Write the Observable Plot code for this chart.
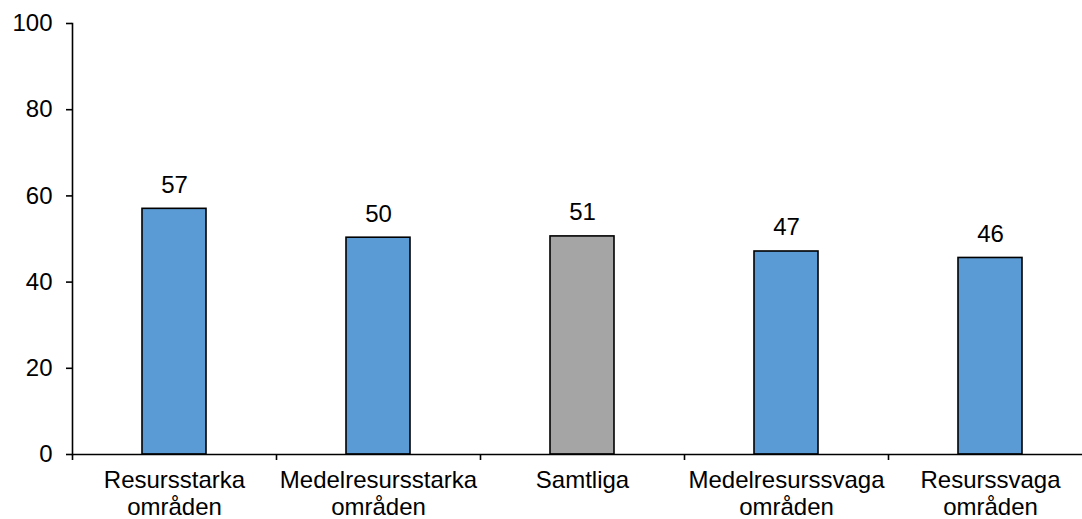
<!DOCTYPE html>
<html>
<head>
<meta charset="utf-8">
<script src="https://cdn.jsdelivr.net/npm/d3@7"></script>
<script src="https://cdn.jsdelivr.net/npm/@observablehq/plot@0.6"></script>
<style>
  html, body { margin: 0; padding: 0; background: #fff; }
  #chart svg { display: block; }
</style>
</head>
<body>
<div id="chart"></div>
<script>
const categories = ["Resursstarka\nområden", "Medelresursstarka\nområden", "Samtliga", "Medelresurssvaga\nområden", "Resurssvaga\nområden"];
const values = [57.0, 50.3, 50.6, 47.1, 45.6];
const colors = ["#5B9BD5", "#5B9BD5", "#A5A5A5", "#5B9BD5", "#5B9BD5"];
const yTicks = [0, 20, 40, 60, 80, 100];

const data = categories.map((c, i) => ({cat: c, value: values[i], color: colors[i]}));

const FONT = "'Liberation Sans', Arial, sans-serif";
const FS = 24;

const chart = Plot.plot({
  width: 1082,
  height: 519,
  marginLeft: 72,
  marginTop: 23,
  marginBottom: 65,
  marginRight: 0,
  style: {fontFamily: FONT, fontSize: FS + "px", color: "#000", background: "#fff", overflow: "hidden"},
  x: {domain: categories, range: [72, 1092], padding: 0, label: null},
  y: {domain: [0, 100], label: null},
  marks: [
    Plot.barY(data, {x: "cat", y: "value", fill: "color", stroke: "#000", strokeWidth: 1.6, insetLeft: 70, insetRight: 70}),
    Plot.text(data, {x: "cat", y: "value", text: d => Math.round(d.value).toString(), lineAnchor: "bottom", dy: -16, fontSize: FS, fill: "#000"}),
    Plot.axisY({ticks: yTicks, tickSize: 6, tickPadding: 14, tickFormat: d => d, fontSize: FS, stroke: "#000", strokeWidth: 1.6, strokeOpacity: 1, label: null}),
    Plot.axisX({tickSize: 0, tickPadding: 15, lineHeight: 1.1, fontSize: FS, label: null}),
    Plot.ruleX(categories, {x: d => d, dx: -102, y1: 0, y2: 0, insetBottom: -6, stroke: "#000", strokeWidth: 1.6}),
    Plot.frame({anchor: "left", stroke: "#000", strokeWidth: 1.6}),
    Plot.ruleY([0], {stroke: "#000", strokeWidth: 1.6})
  ]
});
document.getElementById("chart").append(chart);
</script>
</body>
</html>
